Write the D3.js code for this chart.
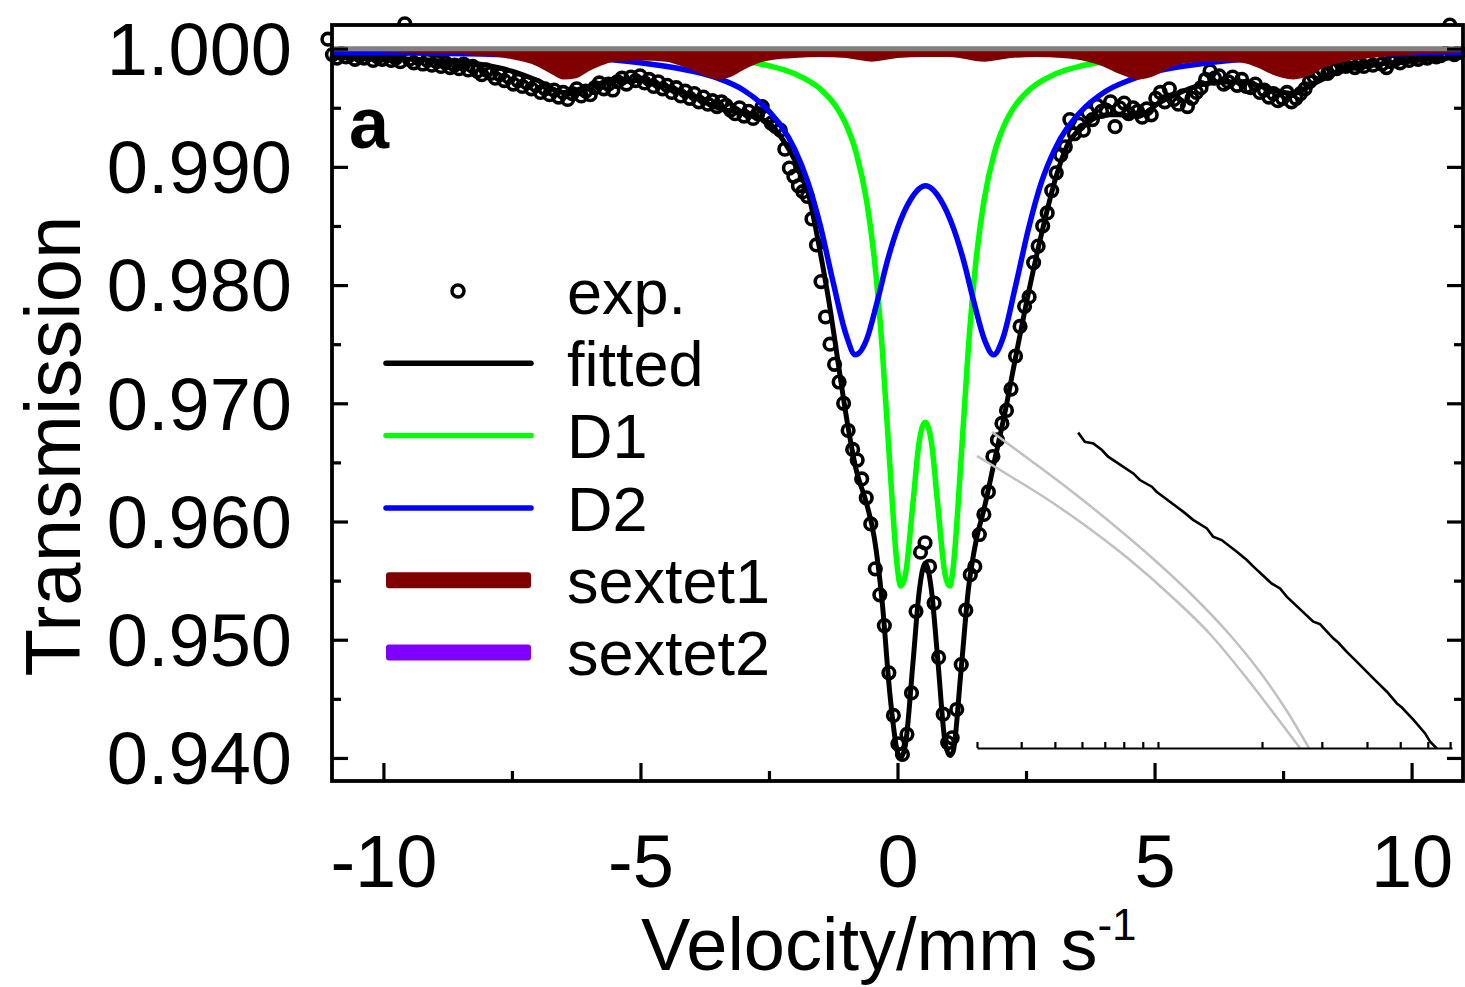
<!DOCTYPE html>
<html><head><meta charset="utf-8">
<script src="https://cdn.jsdelivr.net/npm/d3@7"></script>
<style>body{margin:0;background:#fff} svg{display:block} text{font-family:"Liberation Sans",Arial,Helvetica,sans-serif}</style>
</head><body><svg id="c" width="1465" height="987"></svg>
<script>
// ---------- data ----------
const expV0 = -11.08, expStep = 0.088;   // channel velocity calibration
const expT = [
1.0008,.9995,.9992,.9996,.9993,.9995,.9991,.9994,.9992,.9995,
.9990,.9993,.9991,.9994,.9990,.9992,.9989,1.0021,.9991,.9988,
.9992,.9987,.9990,.9986,.9989,.9985,.9988,.9984,.9986,.9983,
.9987,.9982,.9985,.9981,
.9978,.9982,.9979,.9975,.9978,.9973,.9976,.9970,.9973,.9968,
.9971,.9966,.9969,.9963,.9966,.9961,.9965,.9959,.9963,.9957,
.9962,.9966,.9960,.9964,.9961,.9967,.9971,.9966,.9970,.9965,
.9972,.9975,.9970,.9976,.9973,.9977,.9971,.9974,.9968,.9972,
.9966,.9969,.9963,.9967,.9960,.9964,.9958,.9962,.9955,.9959,
.9953,.9956,.9951,.9955,
.9952,.9948,.9945,.9950,.9943,.9947,.9941,.9945,.9951,.9942,
.9937,.9934,.9931,.9915,.9899,.9892,.9884,.9879,.9875,.9856,
.9834,.9803,.9773,.9750,.9733,.9718,.9700,.9677,
.9661,.9652,.9636,.9620,.9598,.9560,.9538,.9512,.9472,.9436,
.9412,.9403,.9420,.9455,.9524,.9574,.9582,.9562,.9531,.9485,
.9437,.9413,.9417,.9441,.9479,.9525,.9555,.9562,.9589,.9606,
.9625,.9655,.9669,.9683,.9694,.9712,.9740,.9765,.9782,.9790,
.9819,.9833,.9850,.9861,.9880,.9895,.9910,.9917,.9940,.9928,
.9936,.9931,.9946,.9940,.9952,.9947,.9948,.9955,.9934,.9950,
.9954,.9945,
.9950,.9947,.9942,.9949,.9944,.9958,.9963,.9955,.9966,.9957,
.9953,.9960,.9951,.9958,.9963,.9967,.9974,.9981,.9975,.9977,
.9970,.9972,.9976,.9969,.9974,.9968,.9967,.9970,.9963,.9965,
.9959,.9962,.9956,.9958,.9963,.9955,.9958,.9962,.9966,.9972,
.9976,.9980,.9982,.9979,.9985,.9983,.9987,.9985,.9988,.9984,
.9987,.9985,.9989,.9986,.9990,.9987,.9984,.9989,.9991,.9988,
.9992,.9990,.9993,.9991,.9994,.9992,.9995,.9993,.9994,.9996,
1.0020,.9995,.9997
];

const fitV = [-11,-10,-9,-8,-7.5,-7,-6.5,-6,-5.5,-5,-4.5,-4,-3.5,-3,-2.5,-2.2,-2,-1.75,-1.5,-1.3,-1.15,-1,-0.8,-0.6,-0.45,-0.3,-0.15,0,0.06,0.15,0.3,0.42,0.54,0.66,0.78,0.93,1.02,1.08,1.23,1.38,1.53,1.68,1.88,2.08,2.28,2.58,2.8,3.08,3.3,3.58,4.08,4.3,4.7,5.08,5.5,6.08,6.7,7.08,7.7,8.08,8.7,9.08,10,11];
const fitT = [.9994,.9992,.9990,.9986,.9981,.9973,.9963,.9968,.9973,.9973,.9968,.9960,.9950,.9945,.9937,.9921,.9906,.9880,.9827,.9777,.9733,.9690,.9643,.9615,.9586,.9533,.9455,.9405,.9400,.9410,.9480,.9540,.9565,.9542,.9485,.9412,.9402,.9405,.9471,.9543,.9584,.9610,.9650,.9690,.9735,.9800,.9843,.9891,.9918,.9933,.9944,.9944,.9943,.9954,.9963,.9971,.9972,.9968,.9962,.9970,.9982,.9985,.9990,.9993];

const d1V = [-11,-8,-6,-5,-4,-3,-2.5,-2,-1.5,-1.2,-1,-0.8,-0.6,-0.45,-0.3,-0.15,0,0.06,0.15,0.3,0.42,0.54,0.66,0.78,0.93,1.02,1.08,1.23,1.38,1.53,1.68,1.88,2.08,2.28,2.58,3.08,3.58,4.08,5.08,6.08,7.08,9.08,11];
const d1T = [.9999,.99983,.9997,.99958,.99937,.99895,.99855,.99788,.99658,.99513,.99357,.99113,.98709,.9822,.97479,.96482,.95599,.95454,.9554,.96154,.9667,.9684,.9667,.96154,.9554,.95454,.95599,.96482,.97479,.9822,.98709,.99113,.99357,.99513,.99658,.99788,.99855,.99895,.99937,.99958,.9997,.99983,.9999];

const d2V = [-11,-9,-7,-6,-5,-4,-3.5,-3,-2.5,-2,-1.75,-1.5,-1.25,-1,-0.82,-0.6,-0.4,-0.2,0,0.25,0.545,0.84,1.09,1.29,1.49,1.69,1.87,2.05,2.3,2.55,2.8,3.05,3.55,4.05,4.55,5.05,6.05,7.05,8.05,10,11];
const d2T = [.9997,.9996,.9994,.9992,.9988,.9981,.9975,.9965,.9947,.9915,.9888,.9850,.9802,.9758,.9741,.9754,.9785,.9820,.9848,.9872,.9884,.9872,.9848,.9820,.9785,.9754,.9741,.9755,.9800,.9848,.9887,.9914,.9946,.9964,.9974,.9981,.9988,.9992,.9994,.9996,.9997];

const s1V = [-11,-10,-9,-8,-7.5,-7,-6.75,-6.5,-6.25,-6,-5.75,-5.5,-5,-4.5,-4.25,-4,-3.75,-3.5,-3.25,-3,-2.75,-2.5,-2,-1.5,-1,-0.5,0,0.5,1,1.7,2.2,2.7,3.2,3.7,4,4.3,4.7,5,5.3,5.7,6.2,6.7,7,7.3,7.7,8,8.3,8.7,9.2,10,11];
const s1T = [.9998,.9997,.9996,.9994,.9991,.9985,.9979,.9974,.9975,.9981,.9986,.9989,.9990,.9989,.9986,.9982,.9977,.9974,.9976,.9982,.9987,.9990,.9992,.9993,.9992,.9989,.9992,.9993,.9993,.9989,.9992,.9993,.9992,.9989,.9985,.9979,.9974,.9977,.9984,.9988,.9989,.9988,.9984,.9978,.9974,.9977,.9984,.9989,.9992,.9995,.9997];

const s2V = [-11,-6.5,-3.5,-0.5,1.7,4.7,7.7,11];
const s2T = [.99995,.9999,.9999,.99995,.99995,.9999,.9999,.99995];

const yMajor = [0.94,0.95,0.96,0.97,0.98,0.99,1.0];
const yMinor = [0.945,0.955,0.965,0.975,0.985,0.995];
const xMajor = [-10,-5,0,5,10];
const xMinor = [-7.5,-2.5,2.5,7.5];
const legendLabels = ['exp.','fitted','D1','D2','sextet1','sextet2'];

// inset (unlabelled second panel remnant), coordinates in its own 0-100 units
const insetTicks = [0,9.3,16.4,22.1,26.9,30.9,34.9,38.1,60.0,72.6,82.1,89.1,94.9,99.6];
const insetBlack = [[21.3,99.8],[22.7,96.9],[24.5,96.4],[26.3,94.3],[27.6,92.2],[32.9,86.9],[34.3,84.8],[36.8,82.7],[37.8,81.1],[43.4,74.8],[45.5,72.2],[48.4,69.5],[49.7,66.9],[51.5,65.8],[54.7,62.1],[56.8,59.5],[58.2,57.4],[62.0,52.1],[63.8,50.5],[65.2,47.9],[70.8,40.0],[72.2,39.2],[75.0,34.7],[76.1,33.3],[77.8,30.5],[80.3,26.8],[83.8,21.5],[86.3,17.8],[88.4,14.1],[89.4,12.9],[91.9,8.9],[94.3,4.7],[95.4,2.0],[96.8,-0.1]];
const insetGreyA = [[3.16,100.0],[11.16,91.14],[19.58,81.65],[28.0,71.52],[36.42,60.76],[44.84,49.05],[53.26,35.76],[59.58,24.05],[64.84,12.66],[69.89,0]];
const insetGreyB = [[0,92.41],[6.95,86.08],[15.37,78.16],[23.79,69.30],[32.21,59.49],[40.63,48.42],[49.05,36.08],[56.42,22.78],[62.74,10.44],[68.0,0]];

// ---------- chart ----------
const svg = d3.select('#c');
const L = 332, R = 1463, T = 25, B = 781;
const x = d3.scaleLinear().domain([-11, 11]).range([L, R]);
const y = d3.scaleLinear().domain([0.93805, 1.002]).range([B, T]);

const line = d3.line().x(d => x(d[0])).y(d => y(d[1])).curve(d3.curveMonotoneX);
const area = d3.area().x(d => x(d[0])).y0(y(1)).y1(d => y(d[1])).curve(d3.curveMonotoneX);

// experimental points
svg.append('g').selectAll('circle').data(expT).join('circle')
  .attr('cx', (d, i) => x(expV0 + i * expStep)).attr('cy', d => y(d))
  .attr('r', 5.8).attr('fill', 'none').attr('stroke', '#000').attr('stroke-width', 3.6);

// fitted
svg.append('path').datum(d3.zip(fitV, fitT)).attr('d', line)
  .attr('fill', 'none').attr('stroke', '#000').attr('stroke-width', 5);
// D1, D2
svg.append('path').datum(d3.zip(d1V, d1T)).attr('d', line)
  .attr('fill', 'none').attr('stroke', '#00ff00').attr('stroke-width', 5.5);
svg.append('path').datum(d3.zip(d2V, d2T)).attr('d', line)
  .attr('fill', 'none').attr('stroke', '#0000ff').attr('stroke-width', 5.5);
// sextets
svg.append('path').datum(d3.zip(s2V, s2T)).attr('d', area).attr('fill', '#8000ff');
svg.append('path').datum(d3.zip(s1V, s1T)).attr('d', area).attr('fill', '#800000');

// white strip on top, grey baseline
svg.append('rect').attr('x', L).attr('y', T).attr('width', R - L).attr('height', y(1) - 2.5 - T)
  .attr('fill', '#fff');
svg.append('line').attr('x1', L).attr('x2', R).attr('y1', y(1)).attr('y2', y(1))
  .attr('stroke', '#808080').attr('stroke-width', 5);
svg.append('line').attr('x1', R).attr('x2', R).attr('y1', T).attr('y2', y(1) - 2)
  .attr('stroke', '#800000').attr('stroke-width', 1.5);

// inset
const ix = d3.scaleLinear().domain([0, 100]).range([977, 1452]);
const iy = d3.scaleLinear().domain([0, 100]).range([748, 432]);
const iline = d3.line().x(d => ix(d[0])).y(d => iy(d[1]));
svg.append('path').datum(insetGreyA).attr('d', iline.curve(d3.curveMonotoneX)).attr('fill', 'none').attr('stroke', '#c0c0c0').attr('stroke-width', 2.5);
svg.append('path').datum(insetGreyB).attr('d', iline.curve(d3.curveMonotoneX)).attr('fill', 'none').attr('stroke', '#c0c0c0').attr('stroke-width', 2.5);
svg.append('path').datum(insetBlack).attr('d', iline.curve(d3.curveLinear)).attr('fill', 'none').attr('stroke', '#000').attr('stroke-width', 2.6);
const ia = svg.append('g').attr('transform', `translate(0,${iy(0)})`)
  .call(d3.axisBottom(ix).tickValues(insetTicks).tickSize(-6).tickSizeOuter(0).tickFormat(''));
ia.selectAll('path,line').attr('stroke', '#000').attr('stroke-width', 2.2);

// axes
function styleAxis(g) {
  g.select('.domain').remove();
  g.selectAll('line').attr('stroke', '#000').attr('stroke-width', 3.2);
  g.selectAll('text').attr('font-size', 74).attr('fill', '#000')
    .attr('font-family', '"Liberation Sans",Arial,sans-serif');
}
svg.append('g').attr('transform', `translate(${L},0)`)
  .call(d3.axisLeft(y).tickValues(yMajor).tickSize(-16).tickPadding(40).tickFormat(d3.format('.3f')))
  .call(styleAxis).selectAll('text').attr('dy', '0.35em');
svg.append('g').attr('transform', `translate(${L},0)`)
  .call(d3.axisLeft(y).tickValues(yMinor).tickSize(-9).tickFormat('')).call(styleAxis);
svg.append('g').attr('transform', `translate(${R},0)`)
  .call(d3.axisRight(y).tickValues(yMajor).tickSize(-16).tickFormat('')).call(styleAxis);
svg.append('g').attr('transform', `translate(${R},0)`)
  .call(d3.axisRight(y).tickValues(yMinor).tickSize(-9).tickFormat('')).call(styleAxis);
svg.append('g').attr('transform', `translate(0,${B})`)
  .call(d3.axisBottom(x).tickValues(xMajor).tickSize(-18).tickPadding(53).tickFormat(d => String(d)))
  .call(styleAxis);
svg.append('g').attr('transform', `translate(0,${B})`)
  .call(d3.axisBottom(x).tickValues(xMinor).tickSize(-10).tickFormat('')).call(styleAxis);

// frame
svg.append('rect').attr('x', L).attr('y', T).attr('width', R - L).attr('height', B - T)
  .attr('fill', 'none').attr('stroke', '#000').attr('stroke-width', 3.8);

// axis titles
svg.append('text').attr('transform', 'translate(80,446) rotate(-90)').attr('text-anchor', 'middle')
  .attr('font-size', 78).text('Transmission');
const xt = svg.append('text').attr('x', 641).attr('y', 970).attr('font-size', 74);
xt.append('tspan').text('Velocity/mm s');
xt.append('tspan').attr('font-size', 44).attr('dy', -30).text('-1');

// panel letter
svg.append('text').attr('x', 349).attr('y', 148).attr('font-size', 72).attr('font-weight', 'bold').text('a');

// legend
const lg = svg.append('g');
const ly = i => 291 + i * 72.3;
legendLabels.forEach((lab, i) => {
  const cy = ly(i);
  if (i === 0) {
    lg.append('circle').attr('cx', 458).attr('cy', cy).attr('r', 6).attr('fill', 'none').attr('stroke', '#000').attr('stroke-width', 3.5);
  } else if (i <= 3) {
    lg.append('line').attr('x1', 386).attr('x2', 531).attr('y1', cy).attr('y2', cy)
      .attr('stroke', ['#000', '#00ff00', '#0000ff'][i - 1]).attr('stroke-width', 5.5).attr('stroke-linecap', 'round');
  } else {
    lg.append('rect').attr('x', 386).attr('y', cy - 8).attr('width', 145).attr('height', 16).attr('rx', 3)
      .attr('fill', i === 4 ? '#800000' : '#8000ff');
  }
  lg.append('text').attr('x', 567).attr('y', cy).attr('dy', '0.36em').attr('font-size', 63).text(lab);
});
</script></body></html>
